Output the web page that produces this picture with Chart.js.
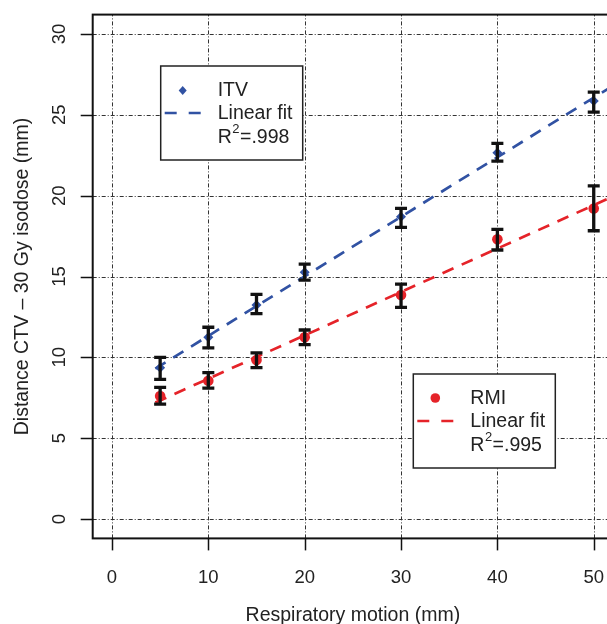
<!DOCTYPE html>
<html>
<head>
<meta charset="utf-8">
<title>CTV distance vs respiratory motion</title>
<script src="https://cdn.jsdelivr.net/npm/chart.js"></script>
<style>
  html, body { margin: 0; padding: 0; overflow: hidden; background: #fff; }
  canvas { display: block; }
</style>
</head>
<body>
<canvas id="chart" width="625" height="624"></canvas>
<script>
// data
const motion = [5, 10, 15, 20, 30, 40, 50];
const itvMean = [9.36, 11.24, 13.23, 15.27, 18.70, 22.65, 25.85];
const itvLow  = [8.64, 10.58, 12.70, 14.78, 18.04, 22.14, 25.17];
const itvHigh = [10.00, 11.86, 13.90, 15.77, 19.21, 23.23, 26.40];
const rmiMean = [7.61, 8.55, 9.83, 11.24, 13.85, 17.30, 19.21];
const rmiLow  = [7.11, 8.10, 9.36, 10.78, 13.09, 16.64, 17.83];
const rmiHigh = [8.14, 9.05, 10.28, 11.69, 14.53, 17.92, 20.60];
const fitX = [4.5, 52];
const itvFit = [9.3, 26.8];
const rmiFit = [7.2, 19.95];
const xTicks = [0, 10, 20, 30, 40, 50];
const yTicks = [0, 5, 10, 15, 20, 25, 30];

const blue = '#3152a3';
const red = '#e52329';
const ink = '#222';
const FONT = '"Liberation Sans", Arial, Helvetica, sans-serif';

const pts = (xs, ys) => xs.map((x, i) => ({ x: x, y: ys[i] }));

// drop the label overhang padding so the plot box sits where we want it
const noPad = s => { s.paddingTop = 0; s.paddingBottom = 0; s.paddingLeft = 0; s.paddingRight = 0; };

// R-like frame, dot-dash grid, outward ticks, error bars and the two legend boxes
const rPlot = {
  id: 'rPlot',
  beforeDatasetsDraw(chart) {
    const { ctx, chartArea: a, scales: { x, y } } = chart;
    ctx.save();
    ctx.strokeStyle = '#333';
    ctx.lineWidth = 1;
    ctx.setLineDash([4, 2, 1, 2]);
    xTicks.forEach(v => {
      const px = Math.round(x.getPixelForValue(v)) + 0.5;
      ctx.beginPath(); ctx.moveTo(px, a.bottom); ctx.lineTo(px, a.top); ctx.stroke();
    });
    yTicks.forEach(v => {
      const py = Math.round(y.getPixelForValue(v)) + 0.5;
      ctx.beginPath(); ctx.moveTo(a.left, py); ctx.lineTo(a.right, py); ctx.stroke();
    });
    ctx.restore();
  },
  afterDatasetsDraw(chart) {
    const { ctx, chartArea: a, scales: { x, y } } = chart;
    ctx.save();

    // error bars
    ctx.strokeStyle = '#111';
    ctx.lineWidth = 3.3;
    const bars = (lo, hi) => motion.forEach((m, i) => {
      const px = x.getPixelForValue(m);
      const y1 = y.getPixelForValue(lo[i]);
      const y2 = y.getPixelForValue(hi[i]);
      ctx.beginPath();
      ctx.moveTo(px, y1); ctx.lineTo(px, y2);
      ctx.moveTo(px - 6, y1); ctx.lineTo(px + 6, y1);
      ctx.moveTo(px - 6, y2); ctx.lineTo(px + 6, y2);
      ctx.stroke();
    });
    bars(itvLow, itvHigh);
    bars(rmiLow, rmiHigh);

    // frame
    ctx.strokeStyle = '#111';
    ctx.lineWidth = 2;
    ctx.strokeRect(a.left, a.top, a.right - a.left, a.bottom - a.top);

    // tick marks
    ctx.lineWidth = 1.5;
    xTicks.forEach(v => {
      const px = Math.round(x.getPixelForValue(v)) + 0.5;
      ctx.beginPath(); ctx.moveTo(px, a.bottom); ctx.lineTo(px, a.bottom + 12); ctx.stroke();
    });
    yTicks.forEach(v => {
      const py = Math.round(y.getPixelForValue(v)) + 0.5;
      ctx.beginPath(); ctx.moveTo(a.left, py); ctx.lineTo(a.left - 12, py); ctx.stroke();
    });

    // legends
    const legend = (bx, by, color, marker, name, r2) => {
      ctx.fillStyle = '#fff';
      ctx.fillRect(bx, by, 142, 94);
      ctx.strokeStyle = '#222';
      ctx.lineWidth = 1.5;
      ctx.setLineDash([]);
      ctx.strokeRect(bx, by, 142, 94);
      const mx = bx + 22, tx = bx + 57;
      ctx.fillStyle = color;
      ctx.beginPath();
      if (marker === 'diamond') {
        ctx.moveTo(mx, by + 20); ctx.lineTo(mx + 4, by + 24.5);
        ctx.lineTo(mx, by + 29); ctx.lineTo(mx - 4, by + 24.5);
        ctx.closePath();
      } else {
        ctx.arc(mx, by + 24, 4.8, 0, Math.PI * 2);
      }
      ctx.fill();
      ctx.strokeStyle = color;
      ctx.lineWidth = 2.7;
      ctx.beginPath();
      ctx.moveTo(bx + 4, by + 47); ctx.lineTo(bx + 16, by + 47);
      ctx.moveTo(bx + 28, by + 47); ctx.lineTo(bx + 40, by + 47);
      ctx.stroke();
      ctx.fillStyle = ink;
      ctx.font = '19.5px ' + FONT;
      ctx.textBaseline = 'middle';
      ctx.textAlign = 'left';
      ctx.fillText(name, tx, by + 25);
      ctx.fillText('Linear fit', tx, by + 48);
      ctx.fillText('R', tx, by + 72);
      const rw = ctx.measureText('R').width;
      ctx.font = '13px ' + FONT;
      ctx.fillText('2', tx + rw + 0.5, by + 63);
      const sw = ctx.measureText('2').width;
      ctx.font = '19.5px ' + FONT;
      ctx.fillText('=' + r2, tx + rw + sw + 1, by + 72);
    };
    legend(a.left + 68, a.top + 51.4, blue, 'diamond', 'ITV', '.998');
    legend(a.left + 320.6, a.top + 359.4, red, 'circle', 'RMI', '.995');

    ctx.restore();
  }
};

new Chart(document.getElementById('chart'), {
  type: 'scatter',
  data: {
    datasets: [
      {
        label: 'ITV',
        data: pts(motion, itvMean),
        pointStyle: 'rectRot',
        pointRadius: 5,
        backgroundColor: blue,
        borderColor: blue,
        borderWidth: 0
      },
      {
        label: 'RMI',
        data: pts(motion, rmiMean),
        pointStyle: 'circle',
        pointRadius: 5.3,
        backgroundColor: red,
        borderColor: red,
        borderWidth: 0
      },
      {
        label: 'ITV fit',
        type: 'line',
        data: pts(fitX, itvFit),
        borderColor: blue,
        borderWidth: 2.7,
        borderDash: [12, 9],
        pointRadius: 0,
        fill: false
      },
      {
        label: 'RMI fit',
        type: 'line',
        data: pts(fitX, rmiFit),
        borderColor: red,
        borderWidth: 2.7,
        borderDash: [12, 9],
        pointRadius: 0,
        fill: false
      }
    ]
  },
  options: {
    responsive: false,
    animation: false,
    devicePixelRatio: 1,
    layout: { padding: { top: 14.6, right: 12, bottom: 0, left: 0 } },
    plugins: { legend: { display: false }, tooltip: { enabled: false } },
    scales: {
      x: {
        type: 'linear',
        min: -2,
        max: 52,
        afterBuildTicks: s => { s.ticks = xTicks.map(v => ({ value: v })); },
        afterFit: s => { s.height = 85.6; noPad(s); },
        grid: { display: false, drawTicks: false },
        border: { display: false },
        ticks: { color: ink, font: { family: FONT, size: 18.5 }, padding: 28, maxRotation: 0 },
        title: {
          display: true,
          text: 'Respiratory motion (mm)',
          color: ink,
          font: { family: FONT, size: 19.5, lineHeight: 0.9 },
          padding: { top: 0, bottom: 0 }
        }
      },
      y: {
        type: 'linear',
        min: -1.2,
        max: 31.2,
        afterBuildTicks: s => { s.ticks = yTicks.map(v => ({ value: v })); },
        afterFit: s => { s.width = 92.7; noPad(s); },
        grid: { display: false, drawTicks: false },
        border: { display: false },
        ticks: {
          color: ink,
          font: { family: FONT, size: 18.5 },
          padding: 23,
          minRotation: 90,
          maxRotation: 90,
          crossAlign: 'center'
        },
        title: {
          display: true,
          text: 'Distance CTV \u2013 30 Gy isodose (mm)',
          color: ink,
          font: { family: FONT, size: 19.5, lineHeight: 1 },
          padding: { top: 13, bottom: 0 }
        }
      }
    }
  },
  plugins: [rPlot]
});
</script>
</body>
</html>
